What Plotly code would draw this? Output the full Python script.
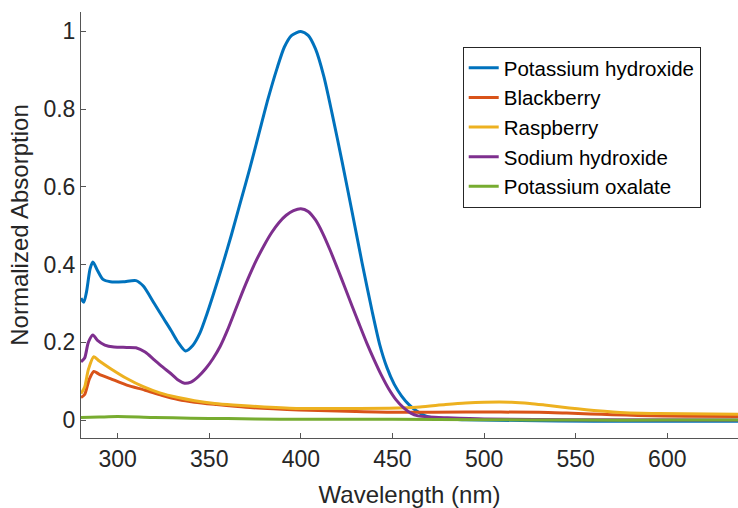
import plotly.graph_objects as go

# Potassium hydroxide
koh_wl = [280, 281.5, 283, 285, 286.5, 289, 292, 296, 303, 310, 314, 320, 325, 329, 333, 337, 341, 345, 348.5,
          352, 357, 362, 367, 372, 377, 382, 387, 391, 395, 400, 404, 408, 412.5, 417, 422.5, 428, 433.4, 438.9,
          443, 447, 451, 455, 459, 463, 468, 475, 490, 520, 560, 600, 640]
koh_val = [0.314, 0.303, 0.33, 0.39, 0.407, 0.385, 0.362, 0.356, 0.356, 0.359, 0.345, 0.30, 0.262, 0.232, 0.20,
           0.178, 0.192, 0.225, 0.27, 0.32, 0.395, 0.475, 0.56, 0.645, 0.735, 0.825, 0.905, 0.96, 0.99, 1.0,
           0.99, 0.955, 0.885, 0.79, 0.665, 0.535, 0.405, 0.28, 0.195, 0.135, 0.092, 0.062, 0.04, 0.024, 0.011,
           0.004, 0.001, -0.001, -0.003, -0.003, -0.003]

# Blackberry
bb_wl = [280, 282, 284.5, 287, 290, 296, 305, 315, 324, 333, 342, 354, 370, 385, 399, 430, 453, 490, 530, 545,
         558, 570, 584, 610, 640]
bb_val = [0.058, 0.066, 0.105, 0.125, 0.118, 0.107, 0.09, 0.077, 0.064, 0.053, 0.046, 0.04, 0.033, 0.029, 0.026,
          0.022, 0.02, 0.021, 0.02, 0.018, 0.016, 0.014, 0.012, 0.01, 0.009]

# Raspberry
rb_wl = [280, 282, 284, 287, 290, 296, 305, 314, 323, 333, 342, 353, 363, 380, 399, 430, 453, 465, 479, 490,
         500, 515, 525, 533, 542, 551, 560, 577, 595, 640]
rb_val = [0.068, 0.085, 0.13, 0.163, 0.152, 0.133, 0.107, 0.086, 0.07, 0.058, 0.05, 0.043, 0.039, 0.034, 0.03,
          0.03, 0.031, 0.034, 0.04, 0.044, 0.046, 0.046, 0.043, 0.039, 0.034, 0.029, 0.025, 0.019, 0.017, 0.015]

# Sodium hydroxide
naoh_wl = [280, 282, 284, 286.5, 289, 293, 298, 305, 310, 315, 320, 325, 329, 333, 336.5, 340, 344, 348, 352,
           356, 360, 364, 368, 372, 376, 380, 384, 388, 392, 396, 400, 404, 408, 412, 416, 420, 424, 428, 432,
           436, 440, 444, 448, 452, 456, 460, 464, 470, 480, 500, 550, 640]
naoh_val = [0.150, 0.16, 0.20, 0.219, 0.205, 0.193, 0.188, 0.187, 0.186, 0.175, 0.155, 0.135, 0.12, 0.103, 0.095,
            0.098, 0.112, 0.132, 0.158, 0.19, 0.232, 0.28, 0.328, 0.373, 0.414, 0.45, 0.482, 0.508, 0.527, 0.539,
            0.544, 0.537, 0.515, 0.48, 0.437, 0.39, 0.342, 0.293, 0.245, 0.198, 0.155, 0.115, 0.08, 0.052, 0.032,
            0.018, 0.011, 0.008, 0.006, 0.003, 0.001, 0.0]

# Potassium oxalate
ox_wl = [280, 290, 300, 320, 340, 360, 375, 400, 450, 500, 550, 600, 640]
ox_val = [0.007, 0.008, 0.009, 0.007, 0.005, 0.004, 0.003, 0.002, 0.002, 0.001, 0.0, 0.0, 0.0]

series = [
    ("Potassium hydroxide", koh_wl, koh_val, "#0072BD"),
    ("Blackberry", bb_wl, bb_val, "#D95319"),
    ("Raspberry", rb_wl, rb_val, "#EDB120"),
    ("Sodium hydroxide", naoh_wl, naoh_val, "#7E2F8E"),
    ("Potassium oxalate", ox_wl, ox_val, "#77AC30"),
]

x_ticks = [300, 350, 400, 450, 500, 550, 600]
y_ticks = [0, 0.2, 0.4, 0.6, 0.8, 1]
y_tick_labels = ["0", "0.2", "0.4", "0.6", "0.8", "1"]

FONT = "Liberation Sans, Arial, sans-serif"

fig = go.Figure()
for name, wl, val, color in series:
    fig.add_trace(go.Scatter(x=wl, y=val, mode="lines", name=name,
                             line=dict(color=color, width=3, shape="spline", smoothing=0.7)))

fig.update_layout(
    width=738, height=508,
    margin=dict(l=81, r=0, t=12, b=70),
    paper_bgcolor="white", plot_bgcolor="white",
    font=dict(family=FONT, color="#262626"),
    showlegend=True,
    legend=dict(x=0.581, y=0.918, xanchor="left", yanchor="top",
                bgcolor="white", bordercolor="#262626", borderwidth=1,
                font=dict(size=20.5, color="#000000", family=FONT),
                tracegroupgap=0, itemwidth=30),
    xaxis=dict(range=[280, 638.6], tickvals=x_ticks, ticks="inside", ticklen=5, tickcolor="#555",
               showline=True, linecolor="#555", linewidth=1, showgrid=False, zeroline=False,
               automargin=False,
               tickfont=dict(size=23, color="#262626"),
               title=dict(text="Wavelength (nm)", font=dict(size=24, color="#262626"), standoff=16)),
    yaxis=dict(range=[-0.046, 1.05], tickvals=y_ticks, ticktext=y_tick_labels, ticks="inside", ticklen=5,
               tickcolor="#555", showline=True, linecolor="#555", linewidth=1, showgrid=False, zeroline=False,
               automargin=False,
               tickfont=dict(size=23, color="#262626"),
               title=dict(text="Normalized Absorption", font=dict(size=24, color="#262626"), standoff=8)),
)

fig.write_html("out.html",
               config={"displayModeBar": False},
               post_script="document.body.style.margin='0px';document.body.style.overflow='hidden';")
